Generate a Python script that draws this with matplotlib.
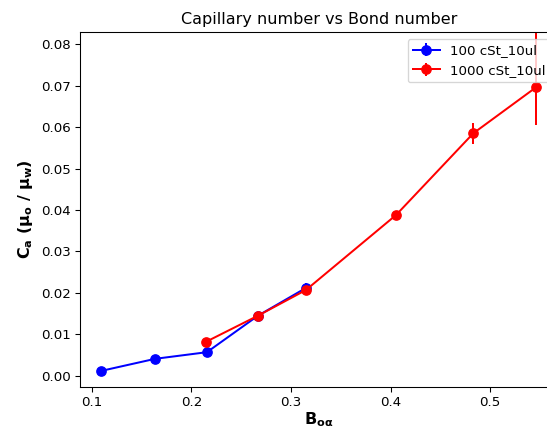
import matplotlib
matplotlib.use("Agg")
import matplotlib.pyplot as plt
import numpy as np

# Bond number / capillary number data
bond_100 = [0.1097, 0.1636, 0.2156, 0.2668, 0.315]
ca_100 = [0.0012, 0.0041, 0.0057, 0.0145, 0.0212]
err_100 = [0.0002, 0.0002, 0.0010, 0.0004, 0.0012]

bond_1000 = [0.2146, 0.2668, 0.315, 0.4055, 0.483, 0.546]
ca_1000 = [0.0082, 0.0145, 0.0207, 0.0388, 0.0585, 0.0696]
err_1000_lo = [0.0002, 0.0003, 0.0004, 0.0004, 0.0025, 0.0091]
err_1000_hi = [0.0002, 0.0003, 0.0004, 0.0004, 0.0025, 0.0160]

dpi = 96
fig = plt.figure(figsize=(547 / dpi, 428 / dpi), dpi=dpi)
ax = fig.add_axes([0.146, 0.0958, 0.874, 0.829])

ax.errorbar(bond_100, ca_100, yerr=err_100, color="blue", marker="o",
            markersize=7, linewidth=1.5, label="100 cSt_10ul")
ax.errorbar(bond_1000, ca_1000, yerr=[err_1000_lo, err_1000_hi], color="red",
            marker="o", markersize=7, linewidth=1.5, label="1000 cSt_10ul")

ax.set_xlim(0.088, 0.568)
ax.set_ylim(-0.0027, 0.0829)
ax.set_xticks([0.1, 0.2, 0.3, 0.4, 0.5])
ax.set_yticks(np.arange(0, 0.081, 0.01))

ax.set_title("Capillary number vs Bond number", fontsize=12)
ax.set_xlabel(r"$\mathbf{B_{o\alpha}}$", fontsize=12, fontweight="bold", labelpad=0.5)
ax.set_ylabel(r"$\mathbf{C_a}$ $\mathbf{(\mu_o\ /\ \mu_w)}$", fontsize=12, fontweight="bold")
ax.legend(loc="upper right", fontsize=10)

fig.savefig("out.png", dpi=dpi)
